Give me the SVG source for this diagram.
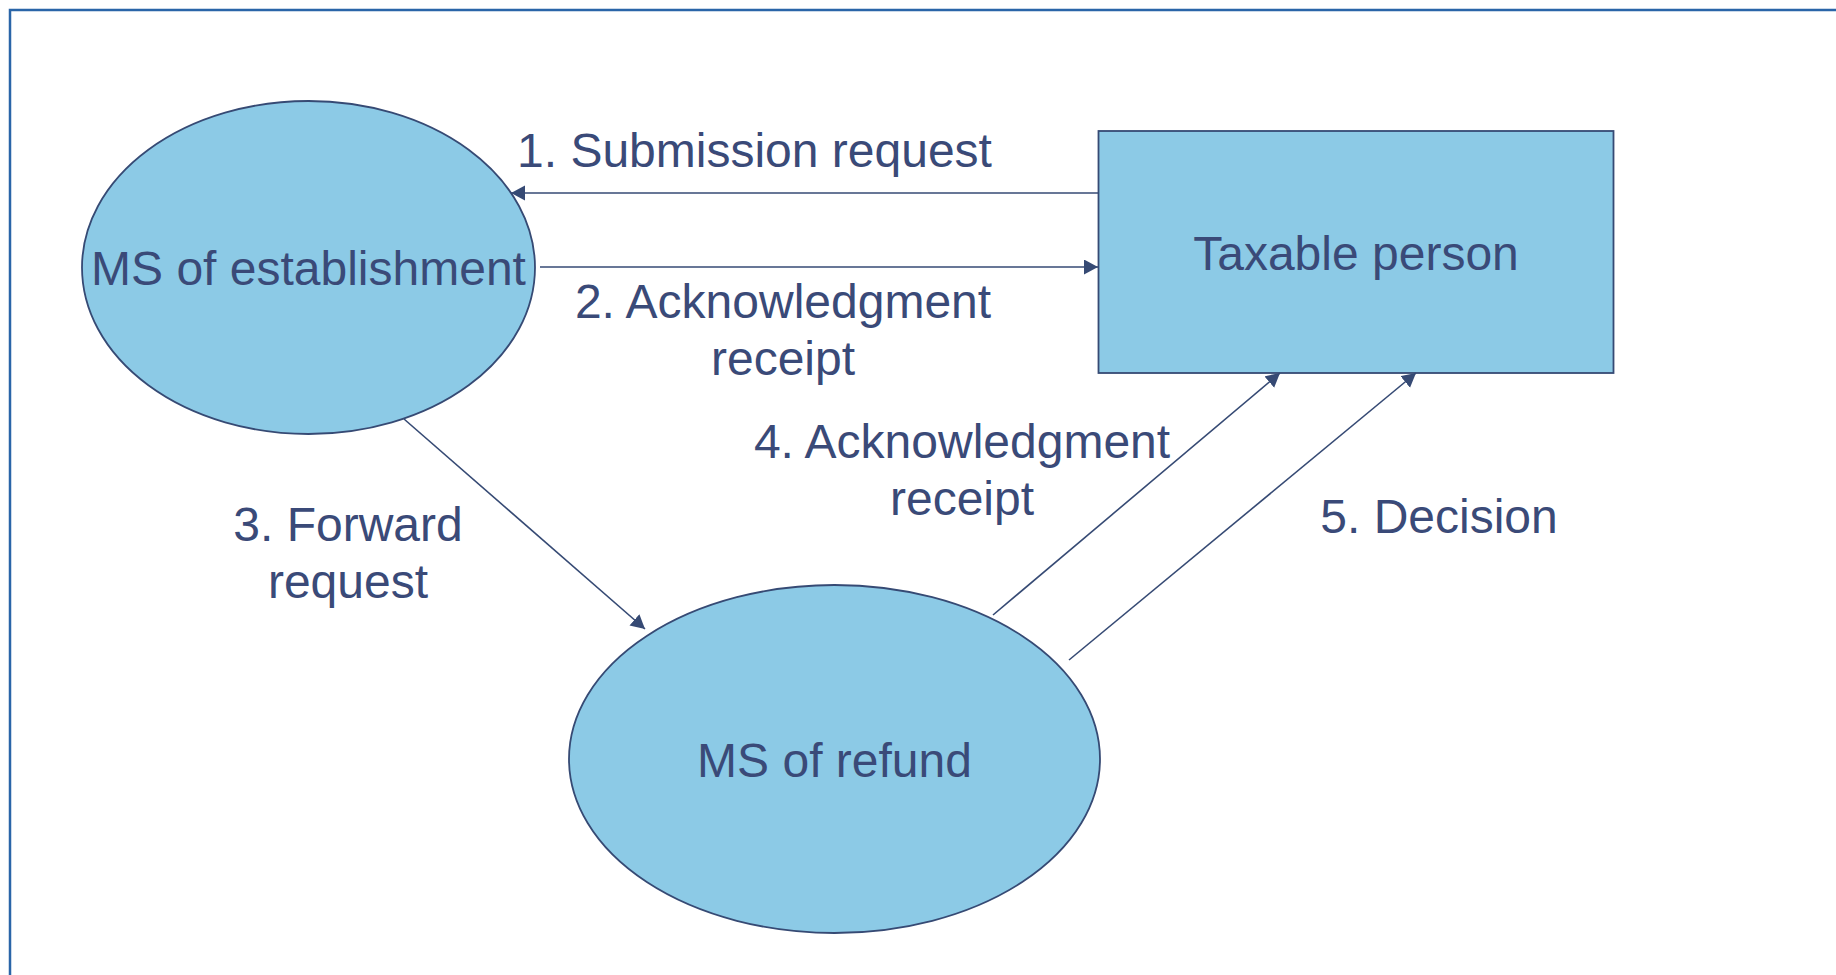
<svg xmlns="http://www.w3.org/2000/svg" width="1836" height="975" viewBox="0 0 1836 975">
  <style>
    .node { fill: #8ccae6; stroke: #364a74; stroke-width: 1.8; }
    .link { stroke: #364a74; stroke-width: 1.6; fill: none; }
    .lbl { font-family: "Liberation Sans", Arial, sans-serif; font-size: 48px; fill: #3a4a78; text-anchor: middle; }
  </style>
  <defs>
    <marker id="arrow" markerUnits="userSpaceOnUse" markerWidth="15" markerHeight="16" refX="14" refY="7.5" orient="auto">
      <path d="M0,0 L14,7.5 L0,15 z" fill="#364a74"/>
    </marker>
  </defs>

  <rect width="1836" height="975" fill="#ffffff"/>
  <!-- outer frame (right and bottom edges run off the canvas) -->
  <rect x="10" y="10" width="2000" height="2000" fill="none" stroke="#2a65a8" stroke-width="2.5"/>

  <g id="ms-establishment">
    <ellipse class="node" cx="308.5" cy="267.5" rx="226.5" ry="166.5"/>
    <text class="lbl" x="308.5" y="285">MS of establishment</text>
  </g>

  <g id="taxable-person">
    <rect class="node" x="1098.5" y="131" width="515" height="242"/>
    <text class="lbl" x="1356" y="270">Taxable person</text>
  </g>

  <g id="ms-refund">
    <ellipse class="node" cx="834.5" cy="759" rx="265.5" ry="174"/>
    <text class="lbl" x="834.5" y="777">MS of refund</text>
  </g>

  <g id="connectors">
    <line class="link" x1="1098.5" y1="193" x2="511" y2="193" marker-end="url(#arrow)"/>
    <line class="link" x1="540" y1="267" x2="1098" y2="267" marker-end="url(#arrow)"/>
    <line class="link" x1="404" y1="419" x2="645" y2="629" marker-end="url(#arrow)"/>
    <line class="link" x1="993" y1="615" x2="1280" y2="373" marker-end="url(#arrow)"/>
    <line class="link" x1="1069" y1="660" x2="1416" y2="373" marker-end="url(#arrow)"/>
  </g>

  <g id="labels">
    <text class="lbl" x="754.5" y="167">1. Submission request</text>
    <text class="lbl" x="783" y="318">2. Acknowledgment</text>
    <text class="lbl" x="783" y="375">receipt</text>
    <text class="lbl" x="348" y="541">3. Forward</text>
    <text class="lbl" x="348" y="598">request</text>
    <text class="lbl" x="962" y="458">4. Acknowledgment</text>
    <text class="lbl" x="962" y="515">receipt</text>
    <text class="lbl" x="1439" y="533">5. Decision</text>
  </g>
</svg>
